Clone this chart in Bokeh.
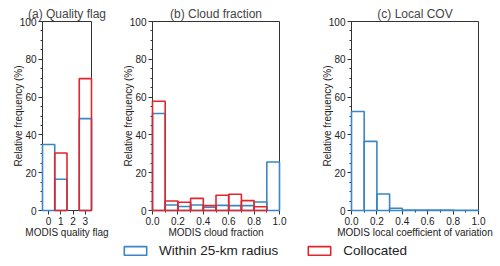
from bokeh.plotting import figure
from bokeh.layouts import column, row
from bokeh.models import (Range1d, FixedTicker, SingleIntervalTicker, PrintfTickFormatter,
                          Legend, LegendItem, ColumnDataSource)
from bokeh.embed import file_html
from bokeh.resources import INLINE

# ---------------- data ----------------
flag_cats = [0, 1, 2, 3]
flag_within = [34.9, 16.5, 0.0, 48.6]
flag_coll = [0.0, 30.4, 0.0, 69.8]

cf_edges = [0.0, 0.1, 0.2, 0.3, 0.4, 0.5, 0.6, 0.7, 0.8, 0.9, 1.0]
cf_within = [51.3, 2.9, 2.1, 2.9, 1.7, 2.7, 2.6, 2.6, 4.5, 25.7]
cf_coll = [57.8, 5.0, 4.4, 6.4, 2.6, 8.1, 8.6, 5.2, 2.0, 0.0]

cov_edges = [0.0, 0.1, 0.2, 0.3, 0.4, 0.5, 0.6, 0.7, 0.8, 0.9, 1.0]
cov_within = [52.4, 36.6, 8.7, 1.2, 0.3, 0.2, 0.3, 0.2, 0.1, 0.1]
cov_coll = [0.0, 0.0, 0.0, 0.0, 0.0, 0.0, 0.0, 0.0, 0.0, 0.0]

titles = ["(a) Quality flag", "(b) Cloud fraction", "(c) Local COV"]
xlabels = ["MODIS quality flag", "MODIS cloud fraction", "MODIS local coefficient of variation"]
ylabel = "Relative frequency (%)"
series_names = ["Within 25-km radius", "Collocated"]

BLUE = "#3a86c6"
RED = "#e2262d"
FONT = "Liberation Sans"
AX = "#333333"


def make_fig(width, bl, br, title, xlabel, xr):
    p = figure(width=width, height=240, output_backend="svg", toolbar_location=None,
               x_range=Range1d(*xr), y_range=Range1d(0, 100),
               min_border_left=bl, min_border_right=br, min_border_top=21, min_border_bottom=29)
    p.title.text = title
    p.title.text_font = FONT
    p.title.text_font_size = "12px"
    p.title.text_font_style = "normal"
    p.title.align = "center"
    p.title.standoff = 1
    p.title.offset = 0
    p.xgrid.visible = False
    p.ygrid.visible = False
    p.outline_line_color = AX
    p.outline_line_width = 1
    for ax in (p.xaxis[0], p.yaxis[0]):
        ax.axis_line_color = AX
        ax.major_tick_line_color = AX
        ax.minor_tick_line_color = AX
        ax.major_tick_out = 4
        ax.major_tick_in = 0
        ax.minor_tick_out = 2
        ax.minor_tick_in = 0
        ax.major_label_text_font = FONT
        ax.major_label_text_font_size = "10px"
        ax.major_label_text_color = "#222222"
        ax.axis_label_text_font = FONT
        ax.axis_label_text_font_size = "10px"
        ax.axis_label_text_font_style = "normal"
        ax.axis_label_text_color = "#222222"
        ax.major_label_standoff = 2
    p.xaxis[0].axis_label_standoff = -1
    p.yaxis[0].axis_label_standoff = -7
    p.yaxis[0].ticker = SingleIntervalTicker(interval=20, num_minor_ticks=4)
    p.yaxis[0].axis_label = ylabel
    p.xaxis[0].axis_label = xlabel
    return p


def add_bars(p, left, right, top, color):
    l = [a for a, t in zip(left, top) if t > 0]
    r = [b for b, t in zip(right, top) if t > 0]
    tt = [t for t in top if t > 0]
    if not tt:
        return None
    src = ColumnDataSource(dict(left=l, right=r, top=tt, bottom=[0] * len(tt)))
    return p.quad(left="left", right="right", top="top", bottom="bottom", source=src,
                  fill_alpha=0, line_color=color, line_width=1.6, level="overlay")


# panel a
pa = make_fig(114, 42, 23, titles[0], xlabels[0], (-0.5, 3.5))
pa.xaxis[0].ticker = FixedTicker(ticks=flag_cats, minor_ticks=[])
add_bars(pa, [c - 0.5 for c in flag_cats], [c + 0.5 for c in flag_cats], flag_within, BLUE)
add_bars(pa, [c - 0.5 for c in flag_cats], [c + 0.5 for c in flag_cats], flag_coll, RED)

# panel b
pb = make_fig(186, 38, 21, titles[1], xlabels[1], (0, 1))
pb.xaxis[0].ticker = SingleIntervalTicker(interval=0.2, num_minor_ticks=2)
pb.xaxis[0].formatter = PrintfTickFormatter(format="%.1f")
add_bars(pb, cf_edges[:-1], cf_edges[1:], cf_within, BLUE)
add_bars(pb, cf_edges[:-1], cf_edges[1:], cf_coll, RED)

# panel c
pc = make_fig(200, 51, 22, titles[2], xlabels[2], (0, 1))
pc.xaxis[0].ticker = SingleIntervalTicker(interval=0.2, num_minor_ticks=2)
pc.xaxis[0].formatter = PrintfTickFormatter(format="%.1f")
add_bars(pc, cov_edges[:-1], cov_edges[1:], cov_within, BLUE)
add_bars(pc, cov_edges[:-1], cov_edges[1:], cov_coll, RED)

# legend strip (the series renderers here sit outside the visible y range)
pl = figure(width=500, height=26, output_backend="svg", toolbar_location=None,
            x_range=Range1d(0, 1), y_range=Range1d(-2, -1),
            x_axis_location=None, y_axis_location=None, min_border=0)
pl.outline_line_color = None
pl.xgrid.visible = False
pl.ygrid.visible = False
src_w = ColumnDataSource(dict(left=cf_edges[:-1], right=cf_edges[1:], top=cf_within, bottom=[0] * len(cf_within)))
src_c = ColumnDataSource(dict(left=cf_edges[:-1], right=cf_edges[1:], top=cf_coll, bottom=[0] * len(cf_coll)))
r1 = pl.quad(left="left", right="right", top="top", bottom="bottom", source=src_w,
             fill_color="white", line_color=BLUE, line_width=1.6)
r2 = pl.quad(left="left", right="right", top="top", bottom="bottom", source=src_c,
             fill_color="white", line_color=RED, line_width=1.6)
leg = Legend(items=[LegendItem(label=series_names[0], renderers=[r1]),
                    LegendItem(label=series_names[1], renderers=[r2])],
             orientation="horizontal", location=(121, 8), glyph_width=28, glyph_height=11,
             label_standoff=10, spacing=27, padding=0, margin=0,
             border_line_alpha=0, background_fill_alpha=0,
             label_text_font=FONT, label_text_font_size="13.5px", label_height=11,
             label_text_color="#222222")
pl.add_layout(leg, "center")

layout = column(row(pa, pb, pc, spacing=0), pl, spacing=0)

open("out.html", "w").write(file_html(layout, INLINE))
